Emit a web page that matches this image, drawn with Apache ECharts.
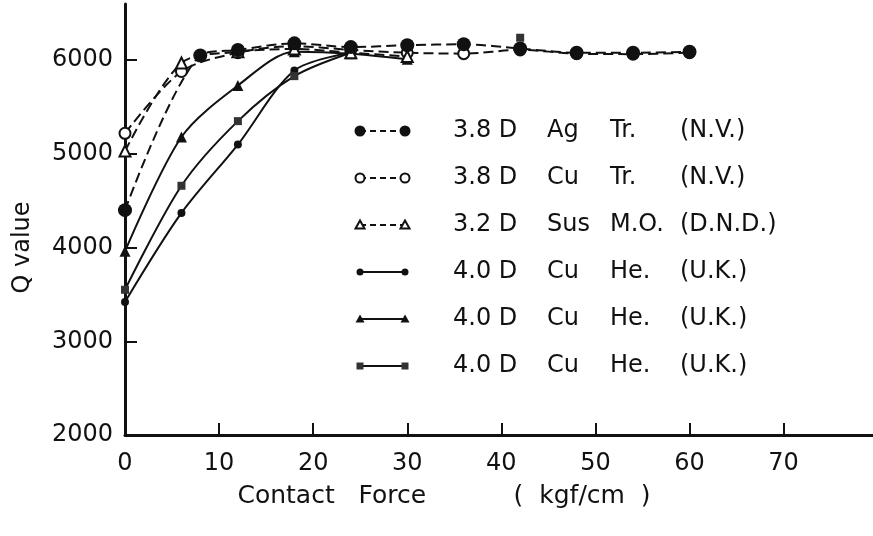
<!DOCTYPE html>
<html>
<head>
<meta charset="utf-8">
<script src="https://cdn.jsdelivr.net/npm/echarts@6/dist/echarts.min.js"></script>
<style>
html, body { margin: 0; padding: 0; background: #fff; }
#chart { width: 873px; height: 536px; }
</style>
</head>
<body>
<div id="chart"></div>
<script>
// x ticks / y ticks
var forceTicks = [0, 10, 20, 30, 40, 50, 60, 70]
var qTicks = [2000, 3000, 4000, 5000, 6000]

// 3.8 D Ag Tr. (N.V.)
var forceAg = [0, 8, 12, 18, 24, 30, 36, 42, 48, 54, 60]
var qAg = [4400, 6050, 6110, 6180, 6140, 6160, 6170, 6125, 6080, 6080, 6090]
// 3.8 D Cu Tr. (N.V.)
var forceCuTr = [0, 6, 12, 18, 24, 30, 36, 42, 48, 54, 60]
var qCuTr = [5220, 5880, 6080, 6150, 6110, 6080, 6070, 6110, 6070, 6065, 6080]
// 3.2 D Sus M.O. (D.N.D.)
var forceSus = [0, 6, 12, 18, 24, 30]
var qSus = [5030, 5970, 6090, 6120, 6080, 6040]
// 4.0 D Cu He. (U.K.) - circle
var forceHeA = [0, 6, 12, 18, 24]
var qHeA = [3420, 4370, 5100, 5890, 6080]
// 4.0 D Cu He. (U.K.) - triangle
var forceHeB = [0, 6, 12, 18, 24, 30]
var qHeB = [3960, 5180, 5730, 6090, 6070, 6010]
// 4.0 D Cu He. (U.K.) - square (42 kgf/cm point stands alone above the curve)
var forceHeC = [0, 6, 12, 18, 24]
var qHeC = [3550, 4660, 5350, 5830, 6080]
var forceHeCTop = [42]
var qHeCTop = [6240]

var legendSize = ['3.8 D', '3.8 D', '3.2 D', '4.0 D', '4.0 D', '4.0 D']
var legendMetal = ['Ag', 'Cu', 'Sus', 'Cu', 'Cu', 'Cu']
var legendMethod = ['Tr.', 'Tr.', 'M.O.', 'He.', 'He.', 'He.']
var legendMaker = ['(N.V.)', '(N.V.)', '(D.N.D.)', '(U.K.)', '(U.K.)', '(U.K.)']

var FONT = 'DejaVu Sans'

function pairs(xs, ys){
    return xs.map(function(x, i){ return [x, ys[i]] })
}

// marker styles per series
var styles = [
    {symbol:'circle', size:14, fill:'#111', dashed:true, lsize:11},
    {symbol:'circle', size:11, fill:'#fff', dashed:true, lsize:9},
    {symbol:'triangle', size:11, fill:'#fff', dashed:true, lsize:9},
    {symbol:'circle', size:8, fill:'#111', dashed:false, lsize:7},
    {symbol:'triangle', size:11, fill:'#111', dashed:false, lsize:9},
    {symbol:'rect', size:8, fill:'#333', dashed:false, lsize:7},
    {symbol:'rect', size:8, fill:'#333', dashed:false, lsize:7}
]
var seriesData = [
    pairs(forceAg, qAg),
    pairs(forceCuTr, qCuTr),
    pairs(forceSus, qSus),
    pairs(forceHeA, qHeA),
    pairs(forceHeB, qHeB),
    pairs(forceHeC, qHeC),
    pairs(forceHeCTop, qHeCTop)
]
// draw order: Ag on top
var zOrder = [6, 3, 4, 2, 2, 2, 7]

var series = seriesData.map(function(d, i){
    var st = styles[i]
    return {
        type:'line',
        data:d,
        smooth:0.3,
        symbol:st.symbol,
        symbolSize:st.size,
        z:zOrder[i],
        lineStyle:{color:'#111', width:2, type: st.dashed ? [10, 5] : 'solid'},
        itemStyle:{color:st.fill, borderColor:'#111', borderWidth: st.fill == '#fff' ? 2 : 0},
        emphasis:{disabled:true},
        animation:false
    }
})

// hand-drawn style legend block: symbol--line--symbol + four text columns
var legendRows = [131, 178, 225, 272, 319, 366]
var legendEls = []
legendRows.forEach(function(y, i){
    var st = styles[i]
    legendEls.push({
        type:'line', shape:{x1:360, y1:y, x2:405, y2:y},
        style:{stroke:'#111', lineWidth:1.8, lineDash: st.dashed ? [6, 4] : null}
    })
    ;[360, 405].forEach(function(cx){
        var r = st.lsize / 2
        var shape
        if(st.symbol == 'circle'){
            shape = {type:'circle', shape:{cx:cx, cy:y, r:r}}
        }else if(st.symbol == 'triangle'){
            shape = {type:'polygon', shape:{points:[[cx, y - r], [cx + r, y + r * 0.8], [cx - r, y + r * 0.8]]}}
        }else{
            shape = {type:'rect', shape:{x:cx - r, y:y - r, width:2 * r, height:2 * r}}
        }
        shape.style = {fill:st.fill, stroke:'#111', lineWidth: st.fill == '#fff' ? 2 : 0}
        shape.z = 10
        legendEls.push(shape)
    })
    var cols = [[453, legendSize[i]], [547, legendMetal[i]], [610, legendMethod[i]], [680, legendMaker[i]]]
    cols.forEach(function(c){
        legendEls.push({
            type:'text', x:c[0], y:y,
            style:{text:c[1], font:'24px "' + FONT + '"', fill:'#111', verticalAlign:'middle'}
        })
    })
})

var chart = echarts.init(document.getElementById('chart'))
chart.setOption({
    backgroundColor:'#fff',
    animation:false,
    grid:{left:125, right:0, top:4, bottom:101},
    xAxis:{
        type:'value',
        min:0,
        max:79.5,
        name:'Contact   Force           (  kgf/cm  )',
        nameLocation:'middle',
        nameGap:49,
        nameTextStyle:{fontFamily:FONT, fontSize:25, color:'#111', padding:[0, 110, 0, 0]},
        axisLine:{lineStyle:{color:'#111', width:3}},
        axisTick:{inside:true, length:12, lineStyle:{color:'#111', width:2}, customValues:forceTicks},
        axisLabel:{fontFamily:FONT, fontSize:24, color:'#111', margin:17, customValues:forceTicks},
        splitLine:{show:false}
    },
    yAxis:{
        type:'value',
        min:2000,
        max:6600,
        name:'Q value',
        nameLocation:'middle',
        nameGap:90,
        nameTextStyle:{fontFamily:FONT, fontSize:24, color:'#111', padding:[0, 56, 0, 0]},
        axisLine:{lineStyle:{color:'#111', width:3}},
        axisTick:{inside:true, length:12, lineStyle:{color:'#111', width:2}, customValues:qTicks},
        axisLabel:{
            fontFamily:FONT, fontSize:24, color:'#111', margin:12, customValues:qTicks,
            formatter:function(v){ return String(v) }
        },
        splitLine:{show:false}
    },
    graphic:legendEls,
    series:series
})
</script>
</body>
</html>
